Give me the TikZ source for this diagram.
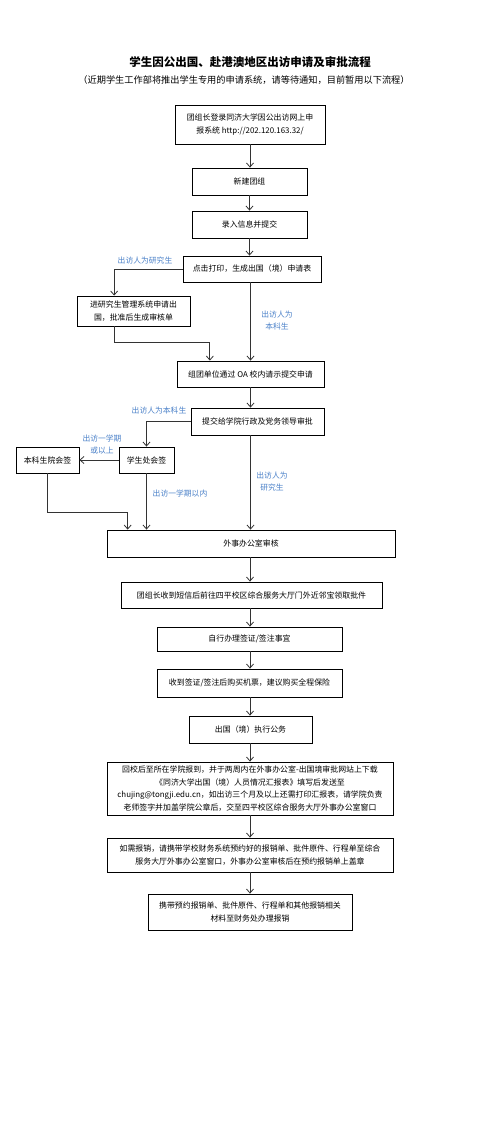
\documentclass[tikz,border=0pt]{standalone}
\usepackage{fontspec}
\setmainfont{Noto Sans CJK SC}
\usetikzlibrary{positioning, calc, arrows.meta}

\definecolor{notecol}{RGB}{74,128,200}

\tikzset{
  box/.style={draw=black, line width=0.8pt, align=center, inner sep=2pt,
    font=\fontsize{7.9}{12.4}\selectfont},
  note/.style={text=notecol, align=center, inner sep=0pt,
    font=\fontsize{7.8}{12}\selectfont},
  flow/.style={-{Straight Barb[length=4pt,width=7pt]}, line width=0.8pt, draw=black!80},
}

\begin{document}
\begin{tikzpicture}[x=1pt, y=-1pt]
\useasboundingbox (0,0) rectangle (496,1134);

% title
\node[font=\fontsize{11.5}{14}\selectfont\bfseries](title) at (250,62) {学生因公出国、赴港澳地区出访申请及审批流程};
\node[font=\fontsize{9.2}{11}\selectfont](subtitle) at (244,80) {（近期学生工作部将推出学生专用的申请系统，请等待通知，目前暂用以下流程）};

% main column
\node[box, minimum width=150pt, minimum height=39pt](login) at (250,124.5) {团组长登录同济大学因公出访网上申\\报系统 http://202.120.163.32/};
\node[box, minimum width=115pt, minimum height=27pt](newgroup) at (249.5,181.5) {新建团组};
\node[box, minimum width=115pt, minimum height=27pt](input) at (249.5,224.5) {录入信息并提交};
\node[box, minimum width=138pt, minimum height=26pt](print) at (252,269) {点击打印，生成出国（境）申请表};
\node[box, minimum width=113pt, minimum height=30pt](grad) at (133.5,311) {进研究生管理系统申请出\\国，批准后生成审核单};
\node[box, minimum width=147pt, minimum height=26pt](oa) at (250.5,374) {组团单位通过 OA 校内请示提交申请};
\node[box, minimum width=133pt, minimum height=27pt](college) at (257.5,421.5) {提交给学院行政及党务领导审批};
\node[box, minimum width=55pt, minimum height=26pt](stuoffice) at (146.5,460) {学生处会签};
\node[box, minimum width=63pt, minimum height=26pt](undergrad) at (47.5,460) {本科生院会签};
\node[box, minimum width=288pt, minimum height=27pt](foreign) at (251,543.5) {外事办公室审核};
\node[box, minimum width=261pt, minimum height=26pt](collect) at (251.5,595) {团组长收到短信后前往四平校区综合服务大厅门外近邻宝领取批件};
\node[box, minimum width=185pt, minimum height=24pt](visa) at (249.5,639) {自行办理签证/签注事宜};
\node[box, minimum width=185pt, minimum height=28pt](ticket) at (249.5,683) {收到签证/签注后购买机票，建议购买全程保险};
\node[box, minimum width=123pt, minimum height=27pt](trip) at (250.5,729.5) {出国（境）执行公务};
\node[box, minimum width=286pt, minimum height=53pt](report) at (250,788.5) {回校后至所在学院报到，并于两周内在外事办公室-出国境审批网站上下载\\《同济大学出国（境）人员情况汇报表》填写后发送至\\chujing@tongji.edu.cn，如出访三个月及以上还需打印汇报表，请学院负责\\老师签字并加盖学院公章后，交至四平校区综合服务大厅外事办公室窗口};
\node[box, minimum width=286pt, minimum height=34pt](stamp) at (250,855) {如需报销，请携带学校财务系统预约好的报销单、批件原件、行程单至综合\\服务大厅外事办公室窗口，外事办公室审核后在预约报销单上盖章};
\node[box, minimum width=204pt, minimum height=36pt](refund) at (250,912) {携带预约报销单、批件原件、行程单和其他报销相关\\材料至财务处办理报销};

% branch notes
\node[note](ngrad1) at (145,261) {出访人为研究生};
\node[note](nund1) at (277,321) {出访人为\\本科生};
\node[note](nund2) at (159,411) {出访人为本科生};
\node[note](nlong) at (102,445) {出访一学期\\或以上};
\node[note](nshort) at (180,494) {出访一学期以内};
\node[note](ngrad2) at (272,482) {出访人为\\研究生};

% connectors
\draw[flow] (login) -- (login |- newgroup.north);
\draw[flow] (newgroup) -- (newgroup |- input.north);
\draw[flow] (input) -- (input |- print.north);
\draw[flow] (print.west) -| ($(grad.north west)!0.33!(grad.north east)$);
\draw[flow] (print.south -| oa) -- (oa.north);
\draw[flow] ($(grad.south west)!0.33!(grad.south east)$) |- ++(0,16) -| ($(oa.north west)!0.225!(oa.north east)$);
\draw[flow] (oa) -- (oa |- college.north);
\draw[flow] (college.west) -| (stuoffice.north);
\draw[flow] (stuoffice) -- (undergrad);
\draw[flow] (undergrad) |- ++(0,52) -| ($(foreign.north west)!0.073!(foreign.north east)$);
\draw[flow] (stuoffice) -- (stuoffice |- foreign.north);
\draw[flow] (college.south -| oa) -- (oa |- foreign.north);
\draw[flow] (foreign.south -| login) -- (login |- collect.north);
\draw[flow] (collect.south -| login) -- (login |- visa.north);
\draw[flow] (visa.south -| login) -- (login |- ticket.north);
\draw[flow] (ticket.south -| login) -- (login |- trip.north);
\draw[flow] (trip.south -| login) -- (login |- report.north);
\draw[flow] (report) -- (report |- stamp.north);
\draw[flow] (stamp) -- (stamp |- refund.north);
\end{tikzpicture}
\end{document}
